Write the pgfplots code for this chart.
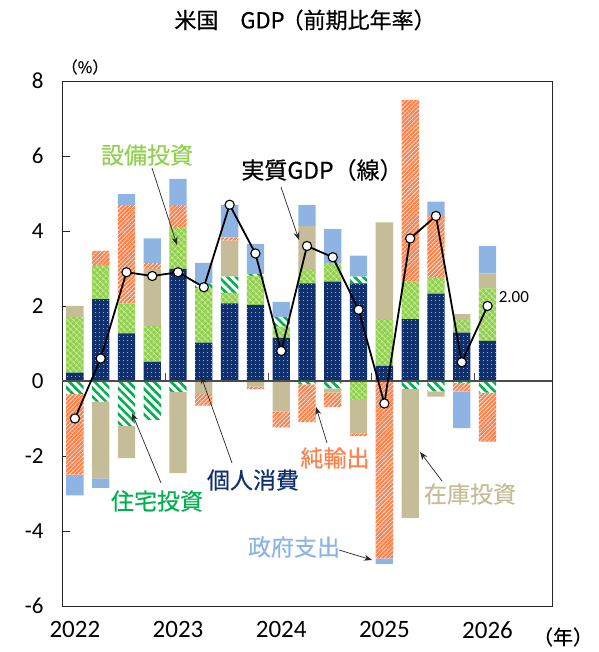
\documentclass[border=0pt]{standalone}
\usepackage{pgfplots}
\pgfplotsset{compat=1.18}
\usepackage{pgfplotstable}
\usepackage{fontspec}
\setmainfont{Carlito}
\newfontfamily\jp[FakeBold=0.5]{Noto Sans CJK JP}
\usetikzlibrary{patterns.meta,arrows.meta}

\definecolor{cNavy}{HTML}{10306E}
\definecolor{cEq}{HTML}{92D050}
\definecolor{cEqL}{HTML}{CDEBA8}
\definecolor{cHou}{HTML}{00B050}
\definecolor{cTan}{HTML}{C4BD97}
\definecolor{cOra}{HTML}{FF8049}
\definecolor{cBlue}{HTML}{8EB4E3}

% positive parts: C=consumption E=equipment H=housing I=inventory N=net exports G=government
\pgfplotstableread{
x C E H I N G
0 0.22 1.48 0 0.30 0 0
1 2.18 0.91 0 0 0.38 0
2 1.27 0.80 0 0 2.62 0.29
3 0.51 0.96 0 1.52 0.15 0.66
4 2.99 1.11 0 0 0.59 0.70
5 1.02 1.45 0.13 0 0 0.55
6 2.07 0.28 0.43 0.96 0.09 0.86
7 2.03 0.77 0.05 0 0 0.80
8 1.15 0.30 0.26 0 0 0.40
9 2.60 0.36 0 1.17 0 0.56
10 2.65 0.49 0 0 0 0.91
11 2.60 0 0.18 0 0 0.56
12 0.40 1.25 0 2.58 0 0
13 1.65 1.00 0 0 4.84 0
14 2.33 0.44 0 0 1.63 0.38
15 1.29 0.34 0 0.15 0 0
16 1.07 1.40 0 0.40 0 0.73
}\pos

% negative parts
\pgfplotstableread{
x C E H I N G
0 0 0 -0.35 0 -2.15 -0.55
1 0 0 -0.55 -2.05 0 -0.25
2 0 0 -1.20 -0.86 0 0
3 0 0 -1.04 0 0 0
4 0 0 -0.29 -2.17 0 0
5 0 0 0 -0.35 -0.31 0
6 0 0 0 0 0 0
7 0 0 0 -0.15 -0.07 0
8 0 0 0 -0.82 -0.42 0
9 0 0 -0.09 0 -1.01 0
10 0 0 -0.20 -0.11 -0.39 0
11 0 -0.50 0 -0.90 -0.07 0
12 0 0 0 0 -4.73 -0.15
13 0 0 -0.21 -3.45 0 0
14 0 0 -0.28 -0.14 0 0
15 0 0 -0.05 0 -0.23 -0.98
16 0 0 -0.31 0 -1.31 0
}\negs

\pgfplotstableread{
x gdp
0 -1.0
1 0.6
2 2.9
3 2.8
4 2.9
5 2.5
6 4.7
7 3.4
8 0.8
9 3.6
10 3.3
11 1.9
12 -0.6
13 3.8
14 4.4
15 0.5
16 2.0
}\gdp

\pgfplotsset{
  common/.style={scale only axis, width=490pt, height=525pt,
    at={(62pt,46pt)}, anchor=south west,
    xmin=-0.5, xmax=18.5, ymin=-6, ymax=8},
  bars/.style={ybar stacked, bar width=17.3pt},
  sC/.style={fill=cNavy, draw=none, postaction={pattern={Dots[distance=4pt,radius=0.6pt]}, pattern color=white!80!cNavy}},
  sE/.style={fill=cEq, draw=none, postaction={pattern={Hatch[angle=45,distance=4pt,line width=0.6pt]}, pattern color=cEqL}},
  sH/.style={fill=white, draw=none, postaction={pattern={Lines[angle=-45,distance=6pt,line width=2.6pt]}, pattern color=cHou}},
  sI/.style={fill=cTan, draw=none},
  sN/.style={fill=white, draw=none, postaction={pattern={Lines[angle=45,distance=3pt,line width=2.2pt]}, pattern color=cOra}},
  sG/.style={fill=cBlue, draw=none},
}

\begin{document}
\begin{tikzpicture}
\path[use as bounding box] (0,0) rectangle (598pt,652pt);

% positive stack + frame
\begin{axis}[common, bars,
  axis line style={black!85, line width=0.9pt},
  ytick={-6,-4,-2,0,2,4,6,8}, ytick pos=left, tick align=inside,
  major tick length=8pt, ytick style={black!85, line width=0.8pt},
  /pgf/number format/assume math mode=true,
  yticklabel style={font=\fontsize{23}{23}\selectfont, xshift=-15pt},
  xtick={0,4,8,12,16}, xticklabels={2022,2023,2024,2025,2026},
  xtick style={draw=none},
  xticklabel style={font=\fontsize{25}{25}\selectfont, yshift=-12pt},
]
\addplot[sC] table[x=x,y=C]{\pos};
\addplot[sE] table[x=x,y=E]{\pos};
\addplot[sH] table[x=x,y=H]{\pos};
\addplot[sI] table[x=x,y=I]{\pos};
\addplot[sN] table[x=x,y=N]{\pos};
\addplot[sG] table[x=x,y=G]{\pos};
\end{axis}

% negative stack
\begin{axis}[common, bars, hide axis]
\addplot[sC] table[x=x,y=C]{\negs};
\addplot[sE] table[x=x,y=E]{\negs};
\addplot[sH] table[x=x,y=H]{\negs};
\addplot[sI] table[x=x,y=I]{\negs};
\addplot[sN] table[x=x,y=N]{\negs};
\addplot[sG] table[x=x,y=G]{\negs};
\end{axis}

% zero line, minor ticks, GDP line
\begin{axis}[common, hide axis, clip=false]
\draw[black!70, line width=1.1pt] (axis cs:-0.5,0) -- (axis cs:18.5,0);
\draw[black!70, line width=0.9pt] (axis cs:3.5,0) -- ([yshift=8pt]axis cs:3.5,0);
\draw[black!70, line width=0.9pt] (axis cs:7.5,0) -- ([yshift=8pt]axis cs:7.5,0);
\draw[black!70, line width=0.9pt] (axis cs:11.5,0) -- ([yshift=8pt]axis cs:11.5,0);
\draw[black!70, line width=0.9pt] (axis cs:15.5,0) -- ([yshift=8pt]axis cs:15.5,0);
\addplot[black, line width=1.8pt, mark=*, mark size=4.6pt,
  mark options={fill=white, draw=black, line width=1.1pt}] table[x=x,y=gdp]{\gdp};
\node[anchor=west, font=\fontsize{17}{17}\selectfont] at (axis cs:16.3,2.25) {2.00};
\end{axis}

% annotations in pixel coordinates (origin top-left)
\begin{scope}[x=1pt, y=-1pt, yshift=652pt]
\node[font=\jp\fontsize{22}{22}\selectfont] at (305,20) {米国　GDP\kern-3pt（前期比年率）};
\node[font=\jp\fontsize{16}{16}\selectfont] at (85,67) {（\%）};
\node[font=\jp\fontsize{20}{20}\selectfont] at (563,637) {（年）};

\tikzset{arr/.style={black!85, line width=0.7pt, -{Stealth[length=8pt,width=6pt]}}}
\node[font=\jp\fontsize{23}{23}\selectfont, text=cEq] at (147,155) {設備投資};
\draw[arr] (152,168) -- (177,245);
\node[font=\jp\fontsize{23}{23}\selectfont, text=black] at (322,170) {実質GDP（線）};
\draw[arr] (281,187) -- (299,240);
\node[font=\jp\fontsize{23}{23}\selectfont, text=cNavy] at (253,480) {個人消費};
\draw[arr] (232,463) -- (201,376);
\node[font=\jp\fontsize{23}{23}\selectfont, text=cHou] at (157,501) {住宅投資};
\draw[arr] (161,483) -- (132,413);
\node[font=\jp\fontsize{23}{23}\selectfont, text=cOra] at (335,458) {純輸出};
\draw[arr] (327,443) -- (316,407);
\node[font=\jp\fontsize{23}{23}\selectfont, text=cTan] at (470,494) {在庫投資};
\draw[arr] (442,481) -- (420,452);
\node[font=\jp\fontsize{23}{23}\selectfont, text=cBlue] at (294,547) {政府支出};
\draw[arr] (339,550) -- (372,560);
\end{scope}
\end{tikzpicture}
\end{document}
